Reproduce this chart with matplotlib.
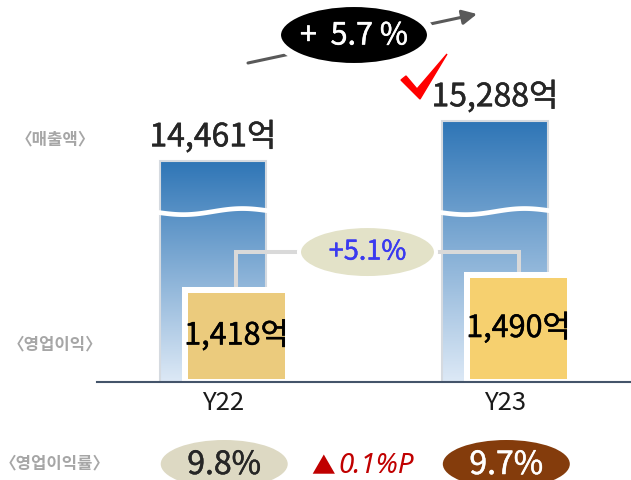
import numpy as np
import matplotlib
matplotlib.use("Agg")
import matplotlib.pyplot as plt
import matplotlib.patheffects as pe
from matplotlib.patches import Ellipse, Polygon
from matplotlib.colors import LinearSegmentedColormap

# --------- data (억 / %) ---------
years = ["Y22", "Y23"]
sales = [14461, 15288]        # 매출액
op_profit = [1418, 1490]      # 영업이익
op_margin = [9.8, 9.7]        # 영업이익률
sales_growth = "+  5.7 %"
op_growth = "+5.1%"
margin_change = "0.1%P"       # shown with ▲ (decrease)
row_labels = ["〈매출액〉", "〈영업이익〉", "〈영업이익률〉"]

KR = ["Noto Sans CJK KR", "DejaVu Sans"]
plt.rcParams["font.family"] = KR

def thick(c, w=0.35):
    # slightly heavier text than the regular face
    return [pe.withStroke(linewidth=w, foreground=c)]

W, H = 631, 481
fig = plt.figure(figsize=(W / 100, H / 100), dpi=100)

# broken value axes: baseline at y=383px, from x=97px to right edge
rect = [97 / W, (H - 383) / H, 1 - 97 / W, 383 / H]
xlim = (-0.411, 1.482)
s_lo, s_hi = 9900, 17800      # sales axis (cut at ~9,900)
o_lo, o_hi = 990, 2832        # operating profit axis (cut)

ax = fig.add_axes(rect, zorder=1)
ax2 = fig.add_axes(rect, zorder=2)
ov = fig.add_axes([0, 0, 1, 1], zorder=3)
for a in (ax2, ov):
    a.patch.set_visible(False)

# --- sales bars with gradient ---
bw = 0.376
blue = LinearSegmentedColormap.from_list("bl", ["#dde9f6", "#2e75b6"])
grad = np.linspace(0, 1, 256).reshape(-1, 1)
wave_lvl = 13400
t = np.linspace(0, 1, 60)
for i, v in enumerate(sales):
    ax.imshow(grad, cmap=blue, origin="lower", aspect="auto",
              extent=(i - bw / 2, i + bw / 2, s_lo, v), zorder=1)
    ax.bar(i, v - s_lo, bottom=s_lo, width=bw, facecolor="none",
           edgecolor="#d5dae0", lw=1.5, zorder=2)
    ax.plot(i - bw / 2 - 0.01 + t * (bw + 0.02), wave_lvl - 55 * np.sin(2 * np.pi * t) + 30 * t,
            color="white", lw=3.4, solid_capstyle="butt", zorder=3)
    ax.annotate(f"{v:,}억", (i, v), xytext=(0, 10.5), textcoords="offset points",
                ha="center", va="baseline", fontsize=23, color="#262626",
                path_effects=thick("#262626"))
ax.set_xlim(*xlim)
ax.set_ylim(s_lo, s_hi)
ax.set_xticks([i + 0.037 for i in range(len(years))], years)
ax.tick_params(axis="x", length=0, pad=5, labelsize=18.5, labelcolor="#1a1a1a")
ax.set_yticks([])
for s in ax.spines.values():
    s.set_visible(False)

# --- operating profit boxes ---
yoff, yw = 0.0833, 0.344
pad_x, pad_y, gap = 0.0213, 28.9, 14.4
yel = ["#ebcb7d", "#f6d06f"]
conn_lvl = 1615
ax2.plot([yoff, yoff, 1 + yoff, 1 + yoff],
         [op_profit[0] + pad_y, conn_lvl, conn_lvl, op_profit[1] + pad_y],
         color="#d9d9d9", lw=2.9, solid_joinstyle="miter", zorder=1)
for i, v in enumerate(op_profit):
    ax2.bar(i + yoff, v - o_lo + pad_y, bottom=o_lo, width=yw + 2 * pad_x, color="white", zorder=1.2)
    ax2.bar(i + yoff, v - o_lo - gap, bottom=o_lo + gap, width=yw, color=yel[i], zorder=1.4)
    ax2.text(i + yoff, (v + o_lo + gap) / 2, f"{v:,}억", ha="center", va="center",
             fontsize=22, color="black", path_effects=thick("black"), zorder=3)
ax2.set_xlim(*xlim)
ax2.set_ylim(o_lo, o_hi)
ax2.set_xticks([])
ax2.set_yticks([])
for k, s in ax2.spines.items():
    s.set_visible(k == "bottom")
ax2.spines["bottom"].set_color("#44546a")
ax2.spines["bottom"].set_linewidth(1.5)
ax2.spines["bottom"].set_zorder(5)

# --- overlay in pixel units ---
ov.set_xlim(0, W)
ov.set_ylim(H, 0)
ov.axis("off")

def px(a, x, y):
    return ov.transData.inverted().transform(a.transData.transform((x, y)))

# sales growth arrow + black ellipse
ov.annotate("", xy=(477, 15), xytext=(248, 64),
            arrowprops=dict(arrowstyle="-|>", color="#595959", lw=2.2,
                            mutation_scale=22, shrinkA=0, shrinkB=0), zorder=3)
ov.add_patch(Ellipse((354, 36), 154, 64, facecolor="black", edgecolor="white", lw=5.8, zorder=4))
ov.text(354, 37, sales_growth, ha="center", va="center", fontsize=22, color="white",
        path_effects=thick("white"), zorder=5)

# red check mark
ov.add_patch(Polygon([(401, 81), (406, 77), (417, 90), (447, 55), (420, 100)],
                     closed=True, color="#ff0000", zorder=4))

# op growth ellipse
cx = (px(ax2, yoff, 0)[0] + px(ax2, 1 + yoff, 0)[0]) / 2 - 10
cy = px(ax2, 0, conn_lvl)[1]
ov.add_patch(Ellipse((cx, cy), 137, 52, facecolor="#e3e2c8", edgecolor="white", lw=2.9, zorder=4))
ov.text(cx, cy, op_growth, ha="center", va="center", fontsize=19.5, color="#3a3af0",
        path_effects=thick("#3a3af0"), zorder=5)

# row labels
for lab, y in zip(row_labels, [139, 344, 463]):
    ov.text(55, y, lab, ha="center", va="center", fontsize=12, color="#a6a6a6", fontweight="bold")

# operating margin row
m_face = ["#ddd9c3", "#843c0c"]
m_text = ["#262626", "white"]
for i, m in enumerate(op_margin):
    mx = px(ax, i + 0.04, s_lo)[0]
    ov.add_patch(Ellipse((mx, 465), 127, 48, facecolor=m_face[i], edgecolor="none", zorder=2))
    ov.text(mx, 466, f"{m}%", ha="center", va="center", fontsize=23, color=m_text[i],
            path_effects=thick(m_text[i]), zorder=3)
ov.text(323, 468, "▲", ha="center", va="center", fontsize=17, color="#c00000")
ov.text(338, 466, margin_change, ha="left", va="center", fontsize=20, color="#c00000",
        style="italic", family=["Noto Sans", "DejaVu Sans"])

fig.savefig("out.png", dpi=100)
